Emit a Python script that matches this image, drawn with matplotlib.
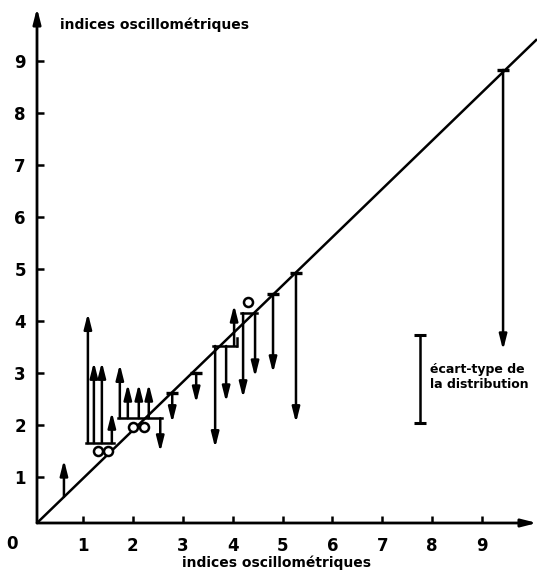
import numpy as np
import matplotlib.pyplot as plt

plt.rcParams['font.family'] = ['DejaVu Sans']
plt.rcParams['font.weight'] = 'bold'

# diagonal reference line
diag_x = [0.08, 10.1]
diag_y = [0.115, 9.42]

# single measurements taken from the diagonal (x, start, end)
single_x = [2.79, 3.27, 4.81, 5.27, 9.42]
single_start = [2.62, 3.00, 4.52, 4.92, 8.83]
single_end = [2.04, 2.42, 3.00, 2.04, 3.44]

# lone upward shift near the origin
low_x = [0.62]
low_start = [0.62]
low_end = [1.33]

# grouped measurements sharing a common base
group_a_x = [1.10, 1.22, 1.38, 1.58]
group_a_base = 1.65
group_a_end = [4.15, 3.21, 3.21, 2.25]

group_b_x = [1.74, 1.90, 2.12, 2.32, 2.55]
group_b_base = 2.13
group_b_end = [3.17, 2.79, 2.79, 2.79, 1.48]

group_c_x = [3.65, 3.87, 4.03]
group_c_base = 3.52
group_c_end = [1.56, 2.44, 4.31]

group_d_x = [4.21, 4.45]
group_d_base = 4.15
group_d_end = [2.52, 2.92]

# isolated points
pts_x = [1.30, 1.50, 2.00, 2.22, 4.31]
pts_y = [1.50, 1.50, 1.96, 1.96, 4.37]

# standard deviation bar
sd_x = 7.76
sd_lo = 2.04
sd_hi = 3.73

ticks = [1, 2, 3, 4, 5, 6, 7, 8, 9]

fig = plt.figure(figsize=(5.42, 5.73), dpi=100)
ax = fig.add_axes([37 / 542, 50 / 573, 500 / 542, 515 / 573])
ax.set_xlim(0.08, 10.1)
ax.set_ylim(0.115, 10.02)
for s in ax.spines.values():
    s.set_visible(False)

lw = 1.8
head = dict(arrowstyle='-|>,head_length=0.75,head_width=0.19', lw=lw,
            color='black', shrinkA=0, shrinkB=0, mutation_scale=12)

# axes with arrowheads
ax.annotate('', xy=(1, 0), xytext=(0, 0), xycoords='axes fraction',
            arrowprops=dict(head, lw=2.0), annotation_clip=False)
ax.annotate('', xy=(0, 1), xytext=(0, 0), xycoords='axes fraction',
            arrowprops=dict(head, lw=2.0), annotation_clip=False)

ax.set_xticks(ticks)
ax.set_yticks(ticks)
ax.tick_params(direction='in', length=5, width=1.8, labelsize=12)
ax.tick_params(axis='x', pad=10)
ax.tick_params(axis='y', pad=8)

ax.plot(diag_x, diag_y, color='black', lw=lw, solid_capstyle='butt')


def arrow(x, y0, y1):
    ax.annotate('', xy=(x, y1), xytext=(x, y0), arrowprops=head)


for x, a, b in zip(single_x, single_start, single_end):
    arrow(x, a, b)
ax.plot(single_x, single_start, ls='none', marker='_', ms=8, mew=2.4,
        color='black')

for x, a, b in zip(low_x, low_start, low_end):
    arrow(x, a, b)

for gx, base, gend in [(group_a_x, group_a_base, group_a_end),
                       (group_b_x, group_b_base, group_b_end),
                       (group_c_x, group_c_base, group_c_end),
                       (group_d_x, group_d_base, group_d_end)]:
    ax.plot([gx[0] - 0.04, gx[-1] + 0.04], [base, base], color='black',
            lw=lw)
    for x, b in zip(gx, gend):
        arrow(x, base, b)

# small step beside the third group
ax.plot([4.08, 4.08], [group_c_base, 3.67], color='black', lw=lw)

ax.plot(pts_x, pts_y, ls='none', marker='o', ms=6.5, mfc='white',
        mec='black', mew=1.8)

ax.plot([sd_x, sd_x], [sd_lo, sd_hi], color='black', lw=lw)
ax.plot([sd_x, sd_x], [sd_lo, sd_hi], ls='none', marker='_', ms=8,
        mew=2.2, color='black')
ax.text(7.95, 2.93, 'écart-type de\nla distribution', fontsize=9,
        fontweight='bold', va='center', ha='left', linespacing=1.2)

fig.text(12 / 542, 1 - 544 / 573, '0', fontsize=12, fontweight='bold',
         ha='center', va='center')
fig.text(60 / 542, 1 - 25 / 573, 'indices oscillométriques', fontsize=10,
         fontweight='bold', ha='left', va='center')
fig.text(277 / 542, 1 - 563 / 573, 'indices oscillométriques', fontsize=10,
         fontweight='bold', ha='center', va='center')

fig.savefig('out.png', dpi=100)
